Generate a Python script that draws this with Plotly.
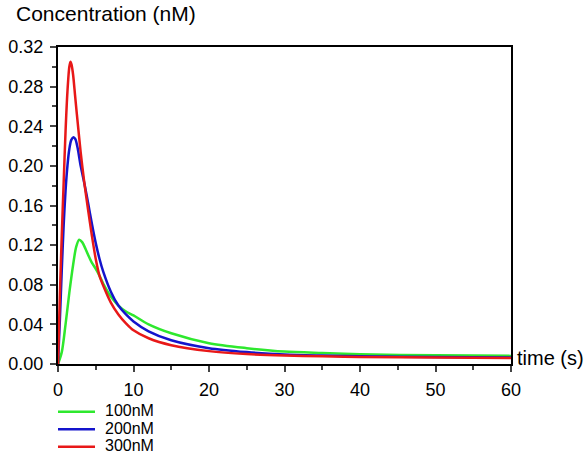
import plotly.graph_objects as go

# Time points (s) and concentration values (nM)
t_100 = [0, 0.5, 1.0, 1.5, 2.0, 2.4, 2.8, 3.2, 3.6, 4.0, 4.5, 5.0, 5.5, 6.0, 7.0, 8.0, 9.0,
         10, 12, 15, 20, 25, 30, 35, 40, 50, 60]
c_100 = [0, 0.012, 0.040, 0.072, 0.100, 0.118, 0.1255, 0.123, 0.117, 0.110, 0.102, 0.096,
         0.089, 0.081, 0.068, 0.059, 0.053, 0.049, 0.040, 0.031, 0.021, 0.016, 0.0125,
         0.011, 0.0098, 0.0088, 0.0082]

t_200 = [0, 0.25, 0.5, 0.75, 1.0, 1.25, 1.5, 1.75, 2.05, 2.3, 2.6, 3.0, 3.5, 4.0, 4.5, 5.0,
         5.5, 6.0, 7.0, 8.0, 9.0, 10, 12, 15, 20, 25, 30, 35, 40, 50, 60]
c_200 = [0, 0.045, 0.095, 0.140, 0.175, 0.200, 0.217, 0.226, 0.229, 0.227, 0.218, 0.200,
         0.182, 0.162, 0.141, 0.122, 0.106, 0.093, 0.073, 0.059, 0.050, 0.043, 0.033,
         0.024, 0.016, 0.012, 0.0095, 0.0085, 0.0078, 0.0070, 0.0065]

t_300 = [0, 0.25, 0.5, 0.75, 1.0, 1.25, 1.5, 1.65, 1.8, 2.0, 2.25, 2.5, 3.0, 3.5, 4.0, 4.5,
         5.0, 5.5, 6.0, 7.0, 8.0, 9.0, 10, 12, 15, 20, 25, 30, 35, 40, 50, 60]
c_300 = [0, 0.070, 0.130, 0.183, 0.235, 0.275, 0.300, 0.305, 0.302, 0.292, 0.272, 0.252,
         0.214, 0.182, 0.155, 0.129, 0.106, 0.089, 0.079, 0.062, 0.050, 0.041, 0.034,
         0.026, 0.019, 0.013, 0.010, 0.0085, 0.0077, 0.0071, 0.0065, 0.0060]

series_names = ["100nM", "200nM", "300nM"]
series_colors = ["#2ee82e", "#1414cc", "#e81818"]

y_tickvals = [0.00, 0.04, 0.08, 0.12, 0.16, 0.20, 0.24, 0.28, 0.32]
x_tickvals = [0, 10, 20, 30, 40, 50, 60]

FONT = "Liberation Sans, Arial, Helvetica, sans-serif"

W, H = 587, 454
ML, MR, MT, MB = 58, 76, 47, 90
PW, PH = W - ML - MR, H - MT - MB


def px_x(p):
    return (p - ML) / PW


def px_y(p):
    return (H - MB - p) / PH


fig = go.Figure()
for tx, cy, name, col in zip([t_100, t_200, t_300], [c_100, c_200, c_300],
                             series_names, series_colors):
    fig.add_trace(go.Scatter(x=tx, y=cy, mode="lines", name=name, showlegend=False,
                             line=dict(color=col, width=2.5, shape="spline", smoothing=0.8)))

# Legend below the plot (drawn as key lines + labels so rows keep the reference spacing)
shapes = []
annotations = []
row_px = [411.7, 429.3, 446.7]
for name, col, ry in zip(series_names, series_colors, row_px):
    shapes.append(dict(type="line", xref="paper", yref="paper",
                       x0=px_x(58), x1=px_x(95), y0=px_y(ry), y1=px_y(ry),
                       line=dict(color=col, width=2.5)))
    annotations.append(dict(text=name, xref="paper", yref="paper", x=px_x(103),
                            y=px_y(ry - 1), xanchor="left", yanchor="middle",
                            showarrow=False, font=dict(size=16, family=FONT)))

annotations += [
    dict(text="Concentration (nM)", xref="paper", yref="paper", x=px_x(14), y=px_y(14),
         xanchor="left", yanchor="middle", showarrow=False,
         font=dict(size=21, family=FONT)),
    dict(text="time (s)", xref="paper", yref="y", x=1.0, y=0, xanchor="left",
         yanchor="middle", xshift=4, yshift=6, showarrow=False,
         font=dict(size=20, family=FONT)),
]

fig.update_layout(
    width=W, height=H,
    margin=dict(l=ML, r=MR, t=MT, b=MB, autoexpand=False),
    paper_bgcolor="white", plot_bgcolor="white",
    font=dict(family=FONT, color="black"),
    showlegend=False,
    xaxis=dict(range=[0, 60], tickvals=x_tickvals, ticks="outside", ticklen=6,
               tickwidth=1.5, showline=True, linecolor="black", linewidth=2,
               mirror=True, showgrid=False, zeroline=False, ticklabelstandoff=2,
               tickfont=dict(size=18, family=FONT),
               minor=dict(dtick=5, ticks="outside", ticklen=4, tickwidth=1.5,
                          showgrid=False)),
    yaxis=dict(range=[0, 0.32], tickvals=y_tickvals, tickformat=".2f", ticks="outside",
               ticklen=6, tickwidth=1.5, showline=True, linecolor="black", linewidth=2,
               mirror=True, showgrid=False, zeroline=False, ticklabelstandoff=3,
               tickfont=dict(size=18, family=FONT),
               minor=dict(dtick=0.02, ticks="outside", ticklen=4, tickwidth=1.5,
                          showgrid=False)),
    shapes=shapes,
    annotations=annotations,
)

fig.write_html("out.html",
               config={"displayModeBar": False},
               post_script="document.body.style.margin='0px';"
                           "document.body.style.overflow='hidden';")
